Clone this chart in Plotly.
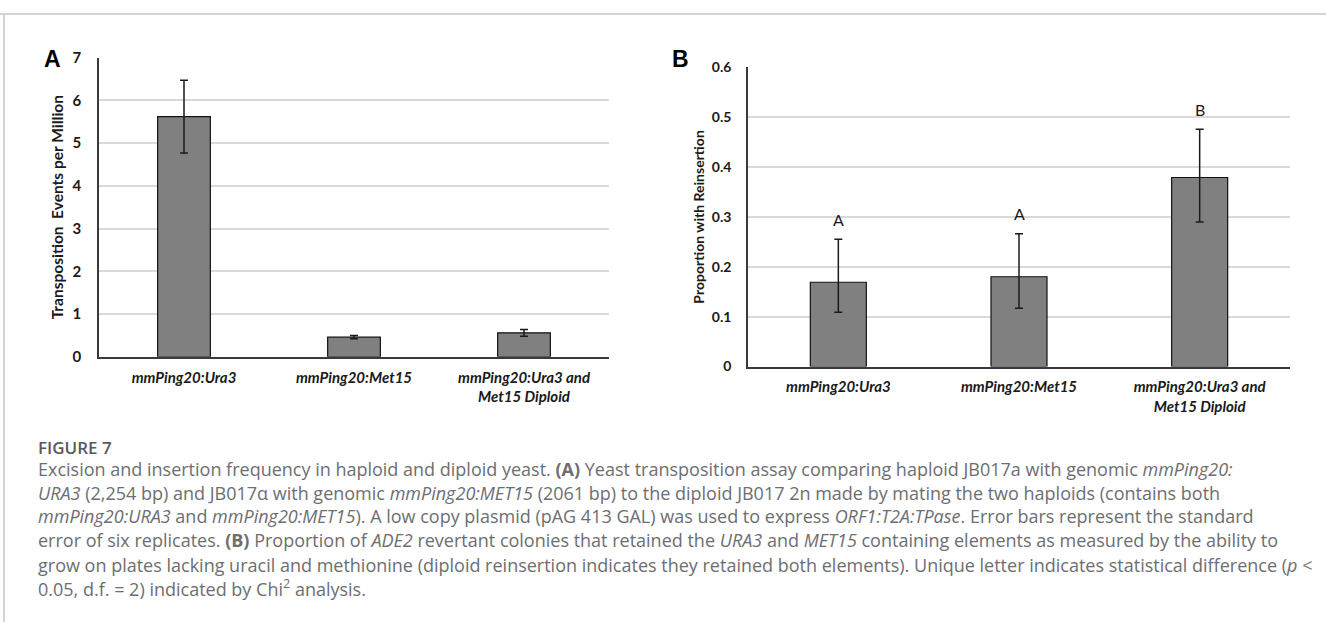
import plotly.graph_objects as go

W, H = 1326, 630

# ---------------- data ----------------
categories = ["mmPing20:Ura3", "mmPing20:Met15", "mmPing20:Ura3 and Met15 Diploid"]
tick_text = ["mmPing20:Ura3", "mmPing20:Met15", "mmPing20:Ura3 and<br>Met15 Diploid"]

events_per_million = [5.62, 0.46, 0.56]
events_err = [0.85, 0.04, 0.08]

proportion_reinsertion = [0.169, 0.180, 0.379]
prop_err_plus = [0.086, 0.086, 0.097]
prop_err_minus = [0.060, 0.063, 0.089]
sig_letters = ["A", "A", "B"]

yticks_A = [0, 1, 2, 3, 4, 5, 6, 7]
yticks_B = [0, 0.1, 0.2, 0.3, 0.4, 0.5, 0.6]
yticks_B_text = ["0", "0.1", "0.2", "0.3", "0.4", "0.5", "0.6"]

# ---------------- helpers ----------------
def px_x(p):
    return p / W

def px_y(p):
    return 1 - p / H

CHART_FONT = "Lato"
CAP_FONT = "Open Sans"
BAR_COLOR = "#808080"
GRID = "#d9d9d9"
AXIS = "#3a3a3a"

fig = go.Figure()

fig.add_trace(go.Bar(
    x=categories, y=events_per_million, width=0.31,
    marker=dict(color=BAR_COLOR, line=dict(color="#111111", width=1.2)),
    error_y=dict(type="data", array=events_err, thickness=1.5, width=4, color="#1a1a1a"),
    xaxis="x", yaxis="y", showlegend=False, hoverinfo="skip",
))

fig.add_trace(go.Bar(
    x=categories, y=proportion_reinsertion, width=0.31,
    marker=dict(color=BAR_COLOR, line=dict(color="#111111", width=1.2)),
    error_y=dict(type="data", symmetric=False, array=prop_err_plus,
                 arrayminus=prop_err_minus, thickness=1.5, width=4, color="#1a1a1a"),
    xaxis="x2", yaxis="y2", showlegend=False, hoverinfo="skip",
))

tickfont_cat = dict(family=CHART_FONT, size=15, color="#1a1a1a", style="italic", weight="bold")
tickfont_numA = dict(family=CHART_FONT, size=15, color="#1a1a1a", weight="bold")
tickfont_numB = dict(family=CHART_FONT, size=14, color="#1a1a1a", weight="bold")
title_fontA = dict(family=CHART_FONT, size=15.5, color="#1a1a1a", weight="bold")
title_fontB = dict(family=CHART_FONT, size=14, color="#1a1a1a", weight="bold")

fig.update_layout(
    width=W, height=H,
    margin=dict(l=0, r=0, t=0, b=0),
    paper_bgcolor="white", plot_bgcolor="white",
    bargap=0.69,
    xaxis=dict(domain=[px_x(99), px_x(609)], anchor="y", type="category",
               categoryorder="array", categoryarray=categories,
               tickvals=categories, ticktext=tick_text, tickfont=tickfont_cat,
               showline=True, linecolor=AXIS, linewidth=1.5, ticks="",
               showgrid=False, ticklabelstandoff=6),
    yaxis=dict(domain=[px_y(357), px_y(49)], anchor="x", range=[0, 7],
               tickvals=yticks_A, tickfont=tickfont_numA,
               showline=True, linecolor=AXIS, linewidth=1.5, ticks="",
               showgrid=True, gridcolor=GRID, gridwidth=1.5, zeroline=False,
               ticklabelstandoff=13,
               title=dict(text="Transposition  Events per Million", font=title_fontA, standoff=5)),
    xaxis2=dict(domain=[px_x(748), px_x(1290)], anchor="y2", type="category",
                categoryorder="array", categoryarray=categories,
                tickvals=categories, ticktext=tick_text, tickfont=tickfont_cat,
                showline=True, linecolor=AXIS, linewidth=1.5, ticks="",
                showgrid=False, ticklabelstandoff=6),
    yaxis2=dict(domain=[px_y(367), px_y(59)], anchor="x2", range=[0, 0.6],
                tickvals=yticks_B, ticktext=yticks_B_text, tickfont=tickfont_numB,
                showline=True, linecolor=AXIS, linewidth=1.5, ticks="",
                showgrid=True, gridcolor=GRID, gridwidth=1.5, zeroline=False,
                ticklabelstandoff=12,
                title=dict(text="Proportion with Reinsertion", font=title_fontB, standoff=4)),
)

annotations = []
# significance letters
for c, v, e, t in zip(categories, proportion_reinsertion, prop_err_plus, sig_letters):
    annotations.append(dict(x=c, y=v + e, xref="x2", yref="y2", text=t, showarrow=False,
                            yanchor="middle", yshift=20,
                            font=dict(family=CHART_FONT, size=16, color="#1a1a1a")))
# panel letters
annotations.append(dict(x=px_x(52), y=px_y(50), xref="paper", yref="paper", text="<b>A</b>",
                        showarrow=False, xanchor="center", yanchor="middle",
                        font=dict(family="Liberation Sans", size=23, color="#000000")))
annotations.append(dict(x=px_x(681), y=px_y(50), xref="paper", yref="paper", text="<b>B</b>",
                        showarrow=False, xanchor="center", yanchor="middle",
                        font=dict(family="Liberation Sans", size=23, color="#000000")))

# caption
caption_title = "FIGURE 7"
caption_lines = [
    "Excision and insertion frequency in haploid and diploid yeast. <b>(A)</b> Yeast transposition assay comparing haploid JB017a with genomic <i>mmPing20:</i>",
    "<i>URA3</i> (2,254 bp) and JB017α with genomic <i>mmPing20:MET15</i> (2061 bp) to the diploid JB017 2n made by mating the two haploids (contains both",
    "<i>mmPing20:URA3</i> and <i>mmPing20:MET15</i>). A low copy plasmid (pAG 413 GAL) was used to express <i>ORF1:T2A:TPase</i>. Error bars represent the standard",
    "error of six replicates. <b>(B)</b> Proportion of <i>ADE2</i> revertant colonies that retained the <i>URA3</i> and <i>MET15</i> containing elements as measured by the ability to",
    "grow on plates lacking uracil and methionine (diploid reinsertion indicates they retained both elements). Unique letter indicates statistical difference (<i>p</i> &lt;",
    "0.05, d.f. = 2) indicated by Chi<sup>2</sup> analysis.",
]
annotations.append(dict(x=px_x(36), y=px_y(450), xref="paper", yref="paper", text=caption_title,
                        showarrow=False, xanchor="left", yanchor="middle",
                        font=dict(family=CAP_FONT, size=17, color="#58595b", weight=600)))
line_y = [473, 497, 521, 546, 571, 595]
for ly, t in zip(line_y, caption_lines):
    annotations.append(dict(x=px_x(36), y=px_y(ly), xref="paper", yref="paper", text=t,
                            showarrow=False, xanchor="left", yanchor="middle", align="left",
                            font=dict(family=CAP_FONT, size=18, color="#6d6e71")))

fig.update_layout(annotations=annotations)

# frame lines (top and left)
fig.add_shape(type="line", xref="paper", yref="paper", x0=0, x1=1, y0=px_y(4), y1=px_y(4),
              line=dict(color="#d4d4d4", width=2))
fig.add_shape(type="line", xref="paper", yref="paper", x0=px_x(4), x1=px_x(4), y0=0, y1=px_y(4),
              line=dict(color="#d4d4d4", width=2))

fig.write_html("out.html")
